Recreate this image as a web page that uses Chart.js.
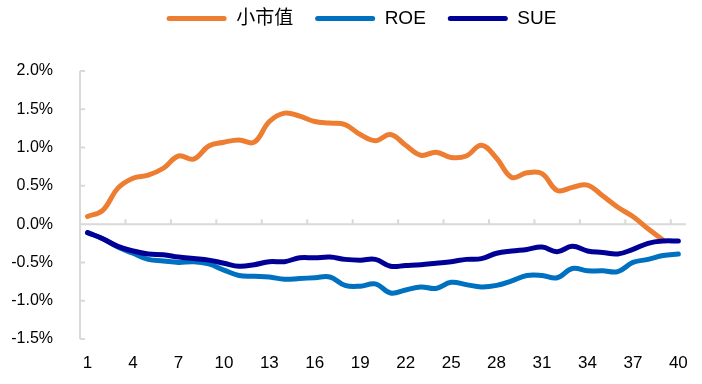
<!DOCTYPE html>
<html>
<head>
<meta charset="utf-8">
<script src="https://cdn.jsdelivr.net/npm/chart.js@4/dist/chart.umd.min.js"></script>
<style>
html,body{margin:0;padding:0;background:#fff;}
#wrap{width:702px;height:384px;position:relative;}
</style>
</head>
<body>
<div id="wrap"><canvas id="c" width="702" height="384"></canvas></div>
<script>
const categories = ['1','2','3','4','5','6','7','8','9','10','11','12','13','14','15','16','17','18','19','20','21','22','23','24','25','26','27','28','29','30','31','32','33','34','35','36','37','38','39','40'];
const smallCap = [0.10,0.18,0.47,0.60,0.64,0.73,0.89,0.85,1.02,1.07,1.10,1.07,1.34,1.45,1.41,1.34,1.32,1.30,1.17,1.09,1.17,1.03,0.90,0.94,0.87,0.89,1.03,0.86,0.61,0.67,0.66,0.44,0.48,0.51,0.37,0.22,0.10,-0.06,-0.21,null];
const roe = [-0.11,-0.19,-0.30,-0.38,-0.46,-0.48,-0.50,-0.49,-0.52,-0.60,-0.67,-0.68,-0.69,-0.72,-0.71,-0.70,-0.69,-0.80,-0.81,-0.78,-0.90,-0.86,-0.82,-0.84,-0.76,-0.79,-0.82,-0.80,-0.74,-0.67,-0.67,-0.70,-0.58,-0.61,-0.61,-0.62,-0.50,-0.46,-0.41,-0.39];
const sue = [-0.11,-0.19,-0.29,-0.35,-0.39,-0.40,-0.43,-0.45,-0.47,-0.51,-0.55,-0.53,-0.49,-0.49,-0.44,-0.44,-0.43,-0.46,-0.47,-0.46,-0.55,-0.54,-0.53,-0.51,-0.49,-0.46,-0.45,-0.38,-0.35,-0.33,-0.30,-0.36,-0.29,-0.35,-0.37,-0.39,-0.33,-0.25,-0.22,-0.22];
const seriesNames = ['小市值','ROE','SUE'];
const yMin = -1.5, yMax = 2.0, yStep = 0.5;
const xLabelEvery = 3;

const FONT = "'Liberation Sans', Arial, 'Noto Sans CJK SC', sans-serif";

const axisPlugin = {
  id: 'customAxes',
  beforeInit(chart) {
    const lg = chart.legend;
    if (lg) {
      const orig = lg.fit;
      lg.fit = function() { orig.call(this); this.height = 84; };
    }
  },
  afterLayout(chart) {
    const lg = chart.legend;
    if (lg) { lg.left += 18; lg.right += 18; }
  },
  beforeDatasetsDraw(chart) {
    const {ctx, chartArea: a, scales: {x, y}} = chart;
    ctx.save();
    ctx.strokeStyle = '#d9d9d9';
    ctx.lineWidth = 2;
    ctx.beginPath();
    const top = y.getPixelForValue(yMax), bot = y.getPixelForValue(yMin);
    ctx.moveTo(a.left, top); ctx.lineTo(a.left, bot);
    y.ticks.forEach(t => {
      const py = y.getPixelForValue(t.value);
      ctx.moveTo(a.left, py); ctx.lineTo(a.left + 5, py);
    });
    const z = y.getPixelForValue(0);
    ctx.moveTo(a.left, z); ctx.lineTo(a.right, z);
    for (let i = xLabelEvery; i < categories.length; i += xLabelEvery) {
      const px = (x.getPixelForValue(i - 1) + x.getPixelForValue(i)) / 2;
      ctx.moveTo(px, z); ctx.lineTo(px, z - 5);
    }
    ctx.stroke();
    ctx.restore();
  }
};

const common = {pointRadius: 0, pointHoverRadius: 0, borderWidth: 5, tension: 0.4, borderCapStyle: 'round', borderJoinStyle: 'round', fill: false, spanGaps: false};

new Chart(document.getElementById('c'), {
  type: 'line',
  data: {
    labels: categories,
    datasets: [
      Object.assign({label: seriesNames[0], data: smallCap, borderColor: '#ED7D31', backgroundColor: '#ED7D31', order: 3}, common),
      Object.assign({label: seriesNames[1], data: roe, borderColor: '#0070C0', backgroundColor: '#0070C0', order: 2}, common),
      Object.assign({label: seriesNames[2], data: sue, borderColor: '#000096', backgroundColor: '#000096', order: 1}, common)
    ]
  },
  options: {
    responsive: false,
    animation: false,
    devicePixelRatio: 1,
    layout: {padding: {top: -13, right: 15, left: 0, bottom: 0}},
    plugins: {
      tooltip: {enabled: false},
      legend: {
        position: 'top',
        labels: {
          boxWidth: 60, boxHeight: 5, padding: 22,
          useBorderRadius: true, borderRadius: 2.5,
          color: '#000',
          font: {family: FONT, size: 19},
          sort: (a, b) => a.datasetIndex - b.datasetIndex,
          generateLabels(chart) {
            const items = Chart.defaults.plugins.legend.labels.generateLabels(chart);
            items.forEach(it => { it.fillStyle = it.strokeStyle; it.lineWidth = 0; it.borderRadius = 2.5; });
            return items;
          }
        }
      }
    },
    scales: {
      x: {
        type: 'category',
        offset: true,
        grid: {display: false, drawTicks: false},
        border: {display: false},
        ticks: {
          autoSkip: false, maxRotation: 0, minRotation: 0, padding: 14,
          color: '#000', font: {family: FONT, size: 17},
          callback: (v, i) => (i % xLabelEvery === 0 ? categories[i] : '')
        },
        afterFit: s => { s.height = 45; }
      },
      y: {
        min: yMin, max: yMax,
        grid: {display: false, drawTicks: false},
        border: {display: false},
        ticks: {
          stepSize: yStep, padding: 27,
          color: '#000', font: {family: FONT, size: 16},
          callback: v => v.toFixed(1) + '%'
        },
        afterFit: s => { s.width = 80; }
      }
    }
  },
  plugins: [axisPlugin]
});
</script>
</body>
</html>
